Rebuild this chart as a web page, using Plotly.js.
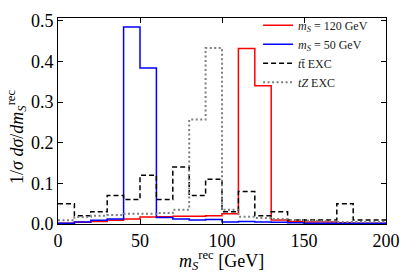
<!DOCTYPE html>
<html>
<head>
<meta charset="utf-8">
<script src="https://cdn.plot.ly/plotly-3.0.1.min.js"></script>
<style>html,body{margin:0;padding:0;background:#fff;}#chart{width:407px;height:277px;}</style>
</head>
<body>
<div id="chart"></div>
<script>
// bin edges in GeV (10 GeV bins)
const binEdges = [0,10,20,30,40,50,60,70,80,90,100,110,120,130,140,150,160,170,180,190,200];
// normalised distributions per bin
const signal120 = [0.002,0.004,0.006,0.009,0.012,0.017,0.018,0.019,0.019,0.020,0.025,0.432,0.340,0.010,0.006,0.005,0.005,0.003,0.002,0.002];
const signal50  = [0.002,0.005,0.009,0.012,0.485,0.384,0.016,0.012,0.010,0.011,0.005,0.006,0.005,0.004,0.003,0.002,0.002,0.002,0.002,0.002];
const ttbarEXC  = [0.050,0.020,0.030,0.070,0.060,0.120,0.060,0.140,0.070,0.110,0.030,0.080,0.020,0.030,0.010,0.010,0.010,0.050,0.010,0.010];
const tZEXC     = [0.009,0.017,0.020,0.022,0.025,0.025,0.027,0.035,0.257,0.433,0.035,0.018,0.015,0.012,0.010,0.008,0.007,0.005,0.005,0.005];
const seriesNames = ["<i>m<sub>S</sub></i> = 120 GeV", "<i>m<sub>S</sub></i> = 50 GeV", "<i>t</i>t\u0304 EXC", "<i>tZ</i> EXC"];
const xTitle = '<i>m</i><sub><i>S</i></sub><sup>rec</sup> [GeV]';
const yTitle = '1/<i>σ</i> <i>dσ</i>/<i>dm</i><sub><i>S</i></sub><sup>rec</sup>';

function stepY(vals){ return vals.concat([vals[vals.length-1]]); }

const styles = [
  {color:'#ff0000', width:1.5, dash:'solid'},
  {color:'#0000ff', width:1.5, dash:'solid'},
  {color:'#000000', width:1.5, dash:'5px,3px'},
  {color:'#808080', width:2, dash:'2px,2.5px'}
];
const data = [signal120, signal50, ttbarEXC, tZEXC].map((v,i)=>({
  type:'scatter', mode:'lines', x:binEdges, y:stepY(v), name:seriesNames[i],
  line:{shape:'hv', color:styles[i].color, width:styles[i].width, dash:styles[i].dash},
  hoverinfo:'skip'
}));

const serif = '"Liberation Serif","DejaVu Serif",serif';
const layout = {
  width:407, height:277,
  margin:{l:58, r:21, t:11, b:53},
  paper_bgcolor:'#fff', plot_bgcolor:'#fff',
  font:{family:serif, color:'#000', size:17},
  showlegend:true,
  legend:{x:0.61, y:1.035, xanchor:'left', yanchor:'top', bgcolor:'rgba(255,255,255,0)',
    font:{family:serif, size:12, color:'#222'}, tracegroupgap:0, itemwidth:30},
  xaxis:{range:[0,200], tickvals:[0,50,100,150,200], ticks:'inside', ticklen:5, tickcolor:'#000',
    showline:true, linecolor:'#000', linewidth:1, mirror:'allticks', showgrid:false, zeroline:false,
    tickfont:{family:serif, size:18}},
  yaxis:{range:[0,0.507], tickvals:[0,0.1,0.2,0.3,0.4,0.5], tickformat:'.1f', ticks:'inside', ticklen:5, tickcolor:'#000',
    showline:true, linecolor:'#000', linewidth:1, mirror:'allticks', showgrid:false, zeroline:false,
    tickfont:{family:serif, size:18}},
  annotations:[
    {text:xTitle, xref:'paper', yref:'paper', x:0.497, y:-0.175, xanchor:'center', yanchor:'middle',
      showarrow:false, font:{family:serif, size:18, color:'#000'}},
    {text:yTitle, xref:'paper', yref:'paper', x:-0.125, y:0.4225, xanchor:'center', yanchor:'middle',
      textangle:-90, showarrow:false, font:{family:serif, size:18, color:'#000'}}
  ]
};
Plotly.newPlot('chart', data, layout, {displayModeBar:false, staticPlot:true});
</script>
</body>
</html>
